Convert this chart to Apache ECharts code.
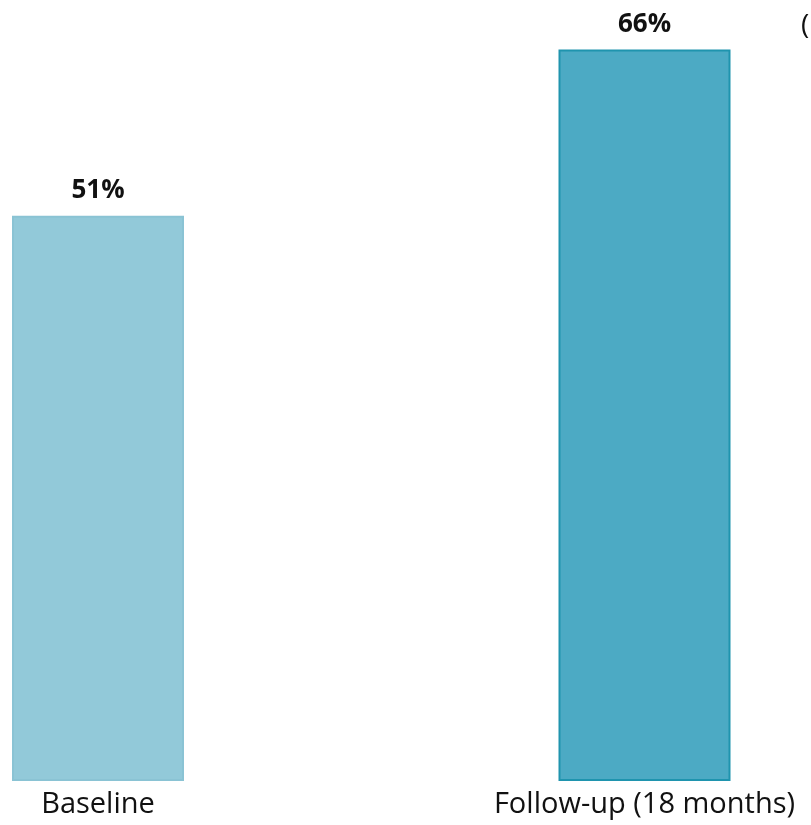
<!DOCTYPE html>
<html>
<head>
<meta charset="utf-8">
<script src="https://cdn.jsdelivr.net/npm/echarts@6/dist/echarts.min.js"></script>
<style>
  html, body { margin: 0; padding: 0; background: #ffffff; }
  #chart { width: 811px; height: 825px; }
</style>
</head>
<body>
<div id="chart"></div>
<script>
// Share of respondents at each measurement point
const categories = ['Baseline', 'Follow-up (18 months)'];
const values = [51, 66];
const valueLabels = ['51%', '66%'];

const fills = ['#92c9d9', '#4caac4'];
const borders = ['#8ac3d4', '#1f94ae'];

const chart = echarts.init(document.getElementById('chart'), null, { renderer: 'canvas' });

chart.setOption({
  animation: false,
  backgroundColor: '#ffffff',
  grid: { left: 98, width: 546.5, top: 44, bottom: 44, containLabel: false },
  xAxis: {
    type: 'category',
    data: categories,
    boundaryGap: false,
    axisLine: { show: false },
    axisTick: { show: false },
    axisLabel: {
      color: '#111111',
      fontFamily: 'Open Sans',
      fontSize: 29,
      margin: 9,
      interval: 0
    }
  },
  yAxis: {
    type: 'value',
    min: 0,
    max: 66.5,
    show: false,
    splitLine: { show: false }
  },
  series: [{
    type: 'bar',
    barWidth: 172,
    data: values.map((v, i) => ({
      value: v,
      itemStyle: { color: fills[i], borderColor: borders[i], borderWidth: 2 }
    })),
    label: {
      show: true,
      position: 'top',
      distance: 12,
      color: '#111111',
      fontFamily: 'Open Sans',
      fontWeight: 'bold',
      fontSize: 26,
      formatter: p => valueLabels[p.dataIndex]
    }
  }],
  graphic: [{
    type: 'text',
    left: 801,
    top: 12,
    style: { text: '(', fill: '#111111', font: '28px "Open Sans"' }
  }]
});
</script>
</body>
</html>
